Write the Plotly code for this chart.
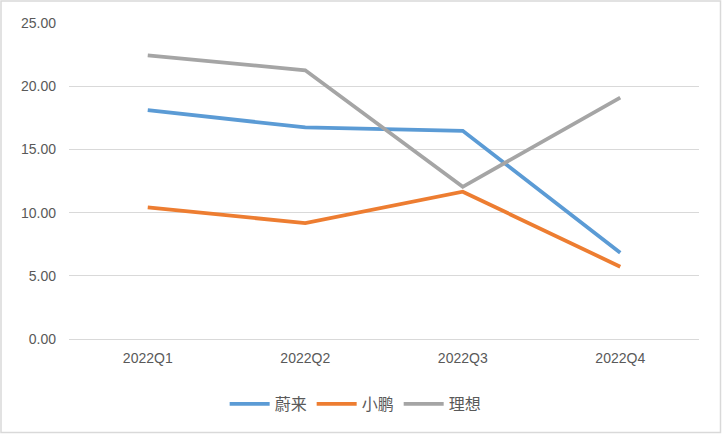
import plotly.graph_objects as go

quarters = ["2022Q1", "2022Q2", "2022Q3", "2022Q4"]
nio = [18.10, 16.74, 16.47, 6.82]
xpeng = [10.41, 9.17, 11.65, 5.72]
li = [22.43, 21.26, 12.04, 19.10]

series = [("蔚来", nio, "#5B9BD5"), ("小鹏", xpeng, "#ED7D31"), ("理想", li, "#A5A5A5")]

fig = go.Figure()
for name, vals, color in series:
    fig.add_trace(go.Scatter(x=quarters, y=vals, name=name, mode="lines",
                             line=dict(color=color, width=3.8)))

W, H = 722, 434
ml, mr, mt, mb = 69, 23, 23, 95
pw, ph = W - ml - mr, H - mt - mb

fig.update_layout(
    width=W, height=H,
    margin=dict(l=ml, r=mr, t=mt, b=mb, autoexpand=False),
    paper_bgcolor="white", plot_bgcolor="white",
    font=dict(family="Liberation Sans, Arial, sans-serif", size=14, color="#595959"),
    xaxis=dict(showgrid=False, showline=False, ticks="", ticklabelstandoff=9,
               range=[-0.5, 3.5], tickfont=dict(size=14, color="#595959")),
    yaxis=dict(range=[0, 25], dtick=5, tickformat=".2f", showgrid=True,
               gridcolor="#D9D9D9", gridwidth=1.3, zeroline=True, zerolinecolor="#D9D9D9",
               zerolinewidth=1.3, showline=False, ticks="", ticklabelstandoff=12,
               tickfont=dict(size=14, color="#595959")),
    legend=dict(orientation="h", x=0.455, xanchor="center", y=-(404 - 339) / ph, yanchor="middle",
                font=dict(family="Noto Sans CJK SC", size=16, color="#595959"),
                itemwidth=40, tracegroupgap=0),
    shapes=[dict(type="rect", xref="paper", yref="paper",
                 x0=(1 - ml) / pw, x1=(W - 1.5 - ml) / pw,
                 y0=(mt + ph - (H - 1.5)) / ph, y1=(mt + ph - 1) / ph,
                 line=dict(color="#D9D9D9", width=1.5), layer="below")],
)

fig.write_html("out.html", config={"displayModeBar": False},
               post_script="document.body.style.margin='0';document.body.style.overflow='hidden';")
